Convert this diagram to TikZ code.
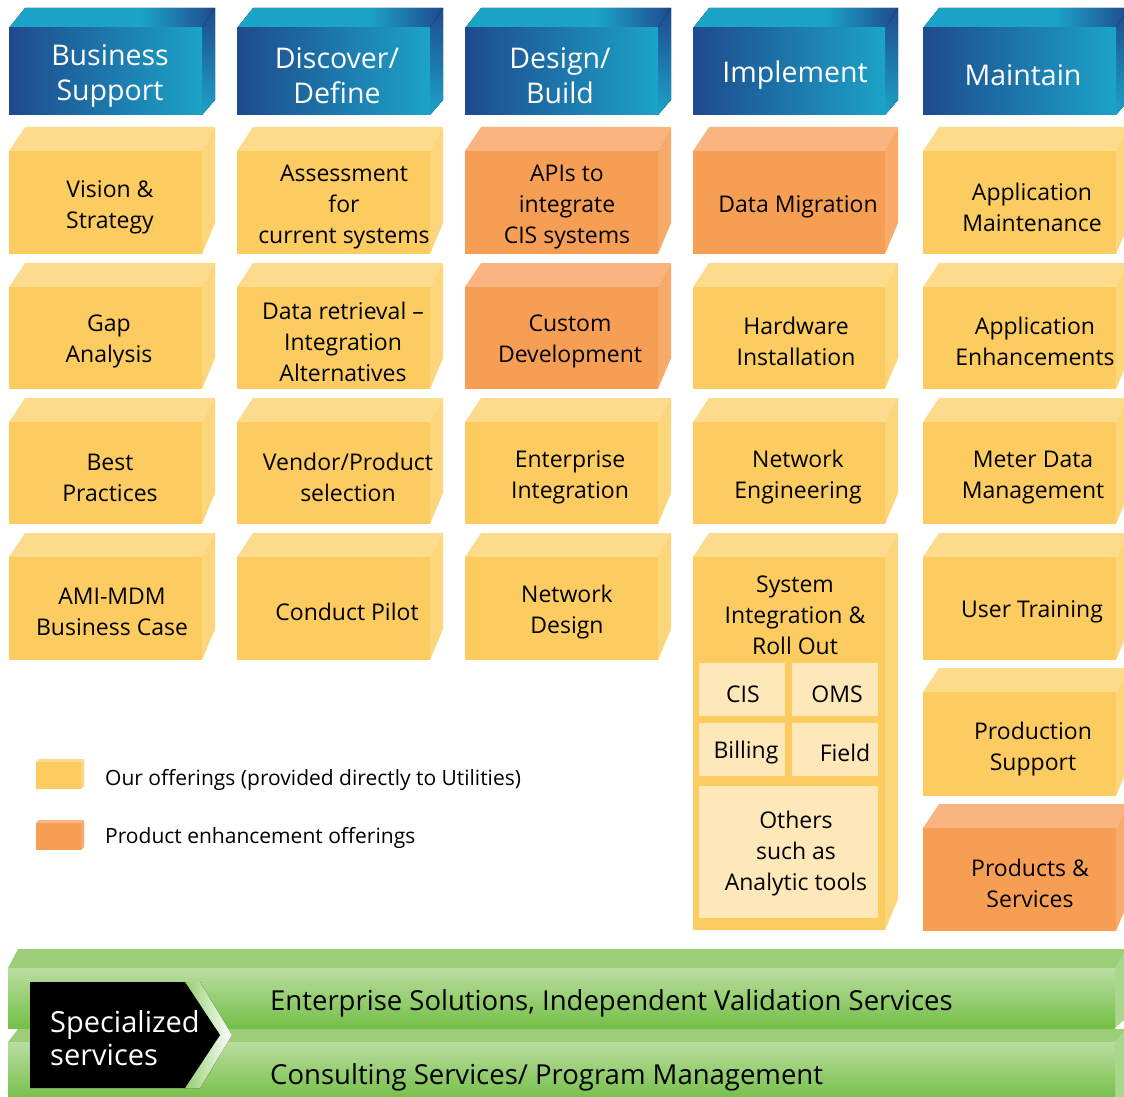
\documentclass[tikz,border=0pt]{standalone}
\usepackage{fontspec}
\setmainfont{Open Sans}
\definecolor{yfront}{HTML}{FCCC60}
\definecolor{ytop}{HTML}{FDDB8C}
\definecolor{yside}{HTML}{FDD57A}
\definecolor{ofront}{HTML}{F79E55}
\definecolor{otop}{HTML}{F9B47F}
\definecolor{oside}{HTML}{F8AA6A}
\definecolor{ylight}{HTML}{FEE7B8}
\definecolor{hnavy}{HTML}{1E4A8E}
\definecolor{hcyan}{HTML}{1CA3C8}
\definecolor{hmid}{HTML}{1A73AD}
\definecolor{gtop}{HTML}{9BCE77}
\definecolor{gfrontA}{HTML}{BADDA0}
\definecolor{gfrontB}{HTML}{74BF47}
\definecolor{gside}{HTML}{A9D78C}
\pgfdeclarehorizontalshading{hdtop}{100bp}{color(0bp)=(hcyan); color(25bp)=(hcyan); color(57bp)=(hcyan); color(75bp)=(hnavy); color(100bp)=(hnavy)}
\newcommand\cubebox[9]{%
  \fill[#6] (#1,#2) -- ({#1+16},{#2-#8}) -- ({#3+13},{#2-#8}) -- (#3,#2) -- cycle;
  \fill[#7] (#3,#2) -- ({#3+13},{#2-#8}) -- ({#3+13},{#4-#9}) -- (#3,#4) -- cycle;
  \fill[#5] (#1,#2) rectangle (#3,#4);}
\newcommand\ybox[4]{\cubebox{#1}{#2}{#3}{#4}{fill=yfront}{fill=ytop}{fill=yside}{24}{31}}
\newcommand\obox[4]{\cubebox{#1}{#2}{#3}{#4}{fill=ofront}{fill=otop}{fill=oside}{24}{31}}
\newcommand\hdrbox[2]{\cubebox{#1}{28}{#2}{115}{left color=hnavy,right color=hcyan}{shading=hdtop}{top color=hnavy,bottom color=hcyan}{20}{15}}
\tikzset{
  txt/.style={font=\fontsize{23}{31}\selectfont, align=center, text=black, inner sep=0pt, yshift=-3pt},
  hdr/.style={font=\fontsize{28.5}{35}\selectfont, align=center, text=white, inner sep=0pt, yshift=-3pt},
  bandtxt/.style={font=\fontsize{27.5}{30}\selectfont, anchor=west, inner sep=0pt, text=black, yshift=-3pt},
  leg/.style={font=\fontsize{21}{24}\selectfont, anchor=west, inner sep=0pt, text=black, yshift=-2pt},
  inner/.style={fill=ylight},
}
\begin{document}
\begin{tikzpicture}[x=1pt,y=-1pt]
\useasboundingbox (0,0) rectangle (1124,1097);
\clip (0,0) rectangle (1124,1097);
\fill[white] (0,0) rectangle (1124,1097);
% headers
\hdrbox{9}{202}
\hdrbox{237}{430}
\hdrbox{465}{658}
\hdrbox{693}{885}
\hdrbox{923}{1116}
\node[hdr] (hBS) at (110,72.5) {Business\\Support};
\node[hdr] (hDD) at (337,72.5) {Discover/\\Define};
\node[hdr] (hDB) at (560,72.5) {Design/\\Build};
\node[hdr] (hIM) at (795,72) {Implement};
\node[hdr] (hMA) at (1023,72) {Maintain};
% row 1
\ybox{9}{151}{202}{254}
\ybox{237}{151}{430}{254}
\obox{465}{151}{658}{254}
\obox{693}{151}{885}{254}
\ybox{923}{151}{1116}{254}
% row 2
\ybox{9}{287}{202}{389}
\ybox{237}{287}{430}{389}
\obox{465}{287}{658}{389}
\ybox{693}{287}{885}{389}
\ybox{923}{287}{1116}{389}
% row 3
\ybox{9}{422}{202}{524}
\ybox{237}{422}{430}{524}
\ybox{465}{422}{658}{524}
\ybox{693}{422}{885}{524}
\ybox{923}{422}{1116}{524}
% row 4
\ybox{9}{557}{202}{660}
\ybox{237}{557}{430}{660}
\ybox{465}{557}{658}{660}
\ybox{693}{557}{885}{930}
\ybox{923}{557}{1116}{660}
% col 5 extra
\ybox{923}{692}{1116}{796}
\obox{923}{828}{1116}{931}
% inner boxes
\fill[inner] (699,663) rectangle (785,716);
\fill[inner] (792,663) rectangle (878,716);
\fill[inner] (699,723) rectangle (785,776);
\fill[inner] (792,723) rectangle (878,776);
\fill[inner] (699,786) rectangle (878,918);
% texts
\node[txt] (vis) at (110,204) {Vision \&\\Strategy};
\node[txt] (ass) at (344,204) {Assessment\\for\\current systems};
\node[txt] (api) at (567,204) {APIs to\\integrate\\CIS systems};
\node[txt] (dmi) at (798,204) {Data Migration};
\node[txt] (apm) at (1032,204) {Application\\Maintenance};
\node[txt] (gap) at (109,338.5) {Gap\\Analysis};
\node[txt] (dre) at (343,339) {Data retrieval –\\Integration\\Alternatives};
\node[txt] (cus) at (570,338.5) {Custom\\Development};
\node[txt] (hwi) at (796,338.5) {Hardware\\Installation};
\node[txt] (ape) at (1035,338.5) {Application\\Enhancements};
\node[txt] (bes) at (110,474.5) {Best\\Practices};
\node[txt] (ven) at (348,474.5) {Vendor/Product\\selection};
\node[txt] (ent) at (570,474.5) {Enterprise\\Integration};
\node[txt] (nen) at (798,474.5) {Network\\Engineering};
\node[txt] (mdm) at (1033,474.5) {Meter Data\\Management};
\node[txt] (ami) at (112,609) {AMI-MDM\\Business Case};
\node[txt] (cpi) at (347,609) {Conduct Pilot};
\node[txt] (nde) at (567,609) {Network\\Design};
\node[txt] (sys) at (795,612) {System\\Integration \&\\Roll Out};
\node[txt] (utr) at (1032,609) {User Training};
\node[txt] (cis) at (743,691) {CIS};
\node[txt] (oms) at (837,691) {OMS};
\node[txt] (bil) at (746,750) {Billing};
\node[txt] (fie) at (845,750) {Field};
\node[txt] (oth) at (796,851) {Others\\such as\\Analytic tools};
\node[txt] (pro) at (1033,746) {Production\\Support};
\node[txt] (pas) at (1030,880) {Products \&\\Services};
% legend
\fill[ytop] (36,762) -- (39,759) -- (84,759) -- (81,762) -- cycle;
\fill[yside] (81,762) -- (84,759) -- (84,786) -- (81,789) -- cycle;
\fill[yfront] (36,762) rectangle (81,789);
\fill[otop] (36,823) -- (39,820) -- (84,820) -- (81,823) -- cycle;
\fill[oside] (81,823) -- (84,820) -- (84,847) -- (81,850) -- cycle;
\fill[ofront] (36,823) rectangle (81,850);
\node[leg] (lg1) at (105,778) {Our offerings (provided directly to Utilities)};
\node[leg] (lg2) at (105,836) {Product enhancement offerings};
% green bands
\fill[gtop] (8,968) -- (18,949) -- (1130,949) -- (1115,968) -- cycle;
\fill[gside] (1115,968) -- (1124,953) -- (1124,1020) -- (1115,1028) -- cycle;
\fill[top color=gfrontA,bottom color=gfrontB] (8,968) rectangle (1115,1028);
\fill[gtop] (8,1042) -- (18,1029) -- (1130,1029) -- (1115,1042) -- cycle;
\fill[gside] (1115,1042) -- (1124,1031) -- (1124,1100) -- (1115,1100) -- cycle;
\fill[top color=gfrontA,bottom color=gfrontB] (8,1042) rectangle (1115,1100);
% chevron
\fill[left color=gfrontB!80, right color=white] (183,982) -- (200,982) -- (232,1035) -- (200,1088) -- (183,1088) -- (220,1035) -- cycle;
\fill[black] (30,982) -- (185,982) -- (220,1035) -- (185,1088) -- (30,1088) -- cycle;
\node[font=\fontsize{29}{33}\selectfont, text=white, align=left, anchor=west, inner sep=0pt] (spc) at (50,1038) {Specialized\\services};
\node[bandtxt] (es) at (270,1000) {Enterprise Solutions, Independent Validation Services};
\node[bandtxt] (cs) at (270,1074) {Consulting Services/ Program Management};
\end{tikzpicture}
\end{document}
